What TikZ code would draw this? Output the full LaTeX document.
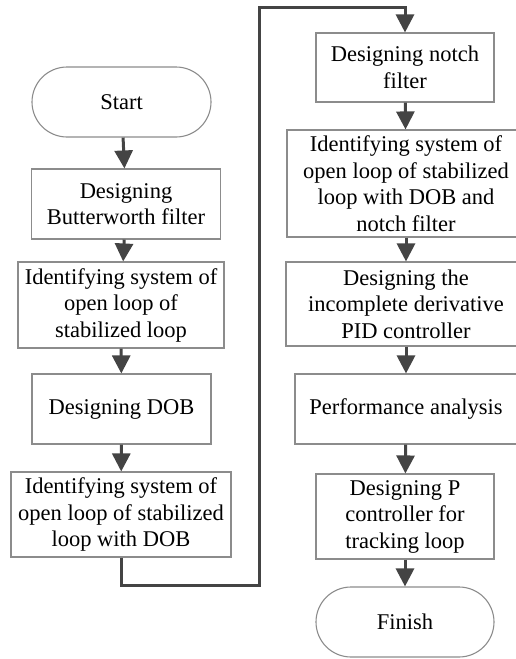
\documentclass[tikz,border=0pt]{standalone}
\usepackage{fontspec}
\setmainfont{Liberation Serif}
\usetikzlibrary{arrows.meta}
\definecolor{flowgray}{HTML}{444444}
\definecolor{boxgray}{HTML}{8C8C8C}

\begin{document}
\begin{tikzpicture}[x=1pt, y=1pt,
  stepbox/.style={draw=boxgray, line width=1.1pt, align=center, inner sep=0pt,
    font=\fontsize{22.5}{26.5}\selectfont},
  terminal/.style={stepbox, rounded corners=35pt},
  flow/.style={draw=flowgray, line width=3pt, -{Triangle[width=18pt, length=18pt]}}]
  \useasboundingbox (0,0) rectangle (515,-659);
  % left column
  \node[terminal, minimum width=179pt, minimum height=70pt] (start) at (121.5,-102) {Start};
  \node[stepbox, minimum width=189pt, minimum height=70pt] (butter) at (126,-204) {Designing\\Butterworth filter};
  \node[stepbox, minimum width=206pt, minimum height=86pt] (ident1) at (121,-305) {Identifying system of\\open loop of\\stabilized loop};
  \node[stepbox, minimum width=179pt, minimum height=70pt] (dob) at (121.5,-409) {Designing DOB};
  \node[stepbox, minimum width=220pt, minimum height=85pt] (ident2) at (121,-514.5) {Identifying system of\\open loop of stabilized\\loop with DOB};
  % right column
  \node[stepbox, minimum width=178pt, minimum height=69pt] (notch) at (405,-67.5) {Designing notch\\filter};
  \node[stepbox, minimum width=238pt, minimum height=107pt] (ident3) at (406,-183.5) {Identifying system of\\open loop of stabilized\\loop with DOB and\\notch filter};
  \node[stepbox, minimum width=240pt, minimum height=84pt] (pid) at (406,-304) {Designing the\\incomplete derivative\\PID controller};
  \node[stepbox, minimum width=222pt, minimum height=70pt] (perf) at (406,-409) {Performance analysis};
  \node[stepbox, minimum width=178pt, minimum height=85pt] (pctrl) at (405,-516.5) {Designing P\\controller for\\tracking loop};
  \node[terminal, minimum width=178pt, minimum height=70pt] (finish) at (405,-622) {Finish};
  % bend points of the long connector
  \coordinate (bendlow) at (259,-585);
  \coordinate (bendhigh) at (259,-7);
  \draw[flow] (start) -- (butter);
  \draw[flow] (butter) -- (ident1);
  \draw[flow] (ident1) -- (dob);
  \draw[flow] (dob) -- (ident2);
  \draw[flow, rounded corners=0pt] (ident2.south) |- (bendlow) -- (bendhigh) -| (notch.north);
  \draw[flow] (notch) -- (ident3);
  \draw[flow] (ident3) -- (pid);
  \draw[flow] (pid) -- (perf);
  \draw[flow] (perf) -- (pctrl);
  \draw[flow] (pctrl) -- (finish);
\end{tikzpicture}
\end{document}
